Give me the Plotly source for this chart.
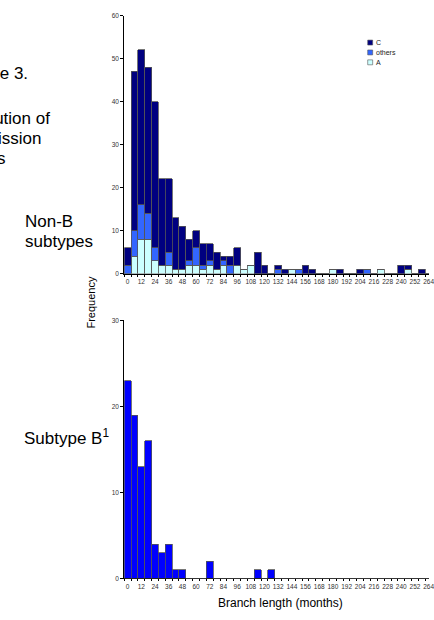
import plotly.graph_objects as go

# ---------------- data ----------------
bins = [0, 6, 12, 18, 24, 30, 36, 42, 48, 54, 60, 66, 72, 78, 84, 90, 96, 102, 108,
        114, 120, 126, 132, 138, 144, 150, 156, 162, 168, 174, 180, 186, 192, 198,
        204, 210, 216, 222, 228, 234, 240, 246, 252, 258, 264]

nonb_A = [0, 4, 8, 8, 3, 2, 2, 1, 1, 2, 2, 1, 2, 1, 2, 0, 2, 1, 2, 0, 0, 0, 0, 0,
          1, 0, 0, 0, 0, 0, 1, 0, 0, 0, 0, 0, 0, 1, 0, 0, 0, 1, 0, 0, 0]
nonb_others = [2, 6, 8, 6, 3, 0, 3, 0, 0, 1, 4, 1, 1, 0, 1, 2, 0, 0, 0, 0, 0, 0, 1, 0,
               0, 1, 0, 0, 0, 0, 0, 0, 0, 0, 0, 1, 0, 0, 0, 0, 0, 0, 0, 0, 0]
nonb_C = [4, 37, 36, 34, 34, 20, 17, 12, 10, 5, 4, 5, 4, 4, 1, 2, 4, 0, 0, 5, 2, 0, 1, 1,
          0, 0, 2, 1, 0, 0, 0, 1, 0, 0, 1, 0, 0, 0, 0, 0, 2, 1, 0, 1, 0]
subtype_B = [23, 19, 13, 16, 4, 3, 4, 1, 1, 0, 0, 0, 2, 0, 0, 0, 0, 0, 0, 1, 0, 1, 0, 0,
             0, 0, 0, 0, 0, 0, 0, 0, 0, 0, 0, 0, 0, 0, 0, 0, 0, 0, 0, 0, 0]

x_tickvals = [0, 12, 24, 36, 48, 60, 72, 84, 96, 108, 120, 132, 144, 156, 168, 180,
              192, 204, 216, 228, 240, 252, 264]
x_ticktext = ["0", "12", "24", "36", "48", "60", "72", "84", "96", "108", "120", "132",
              "144", "156", "168", "180", "192", "204", "216", "228", "240", "252", "264"]

series_names = ["A", "others", "C"]
series_colors = {"A": "#CCFFFF", "others": "#3366FF", "C": "#000080"}
B_COLOR = "#0000FF"

caption_lines = ["Figure 3.", "Distribution of", "transmission", "clusters"]

# ---------------- figure ----------------
W, H = 434, 620
FONT = "Liberation Sans, Arial, sans-serif"


def px(x):
    return x / W


def py(y):
    return 1 - y / H


fig = go.Figure()
outline = dict(color="#555555", width=0.8)
for name, vals in zip(series_names, [nonb_A, nonb_others, nonb_C]):
    fig.add_trace(go.Bar(x=bins, y=vals, name=name, width=6,
                         marker=dict(color=series_colors[name], line=outline),
                         xaxis="x", yaxis="y", showlegend=False, hoverinfo="skip"))

fig.add_trace(go.Bar(x=bins, y=subtype_B, name="B", width=6,
                     marker=dict(color=B_COLOR, line=outline),
                     xaxis="x2", yaxis="y2", showlegend=False, hoverinfo="skip"))

xdom = [px(125.7), 1.0]
xcommon = dict(range=[-3, 264.3], tickmode="array", tickvals=x_tickvals, ticktext=x_ticktext,
               showline=True, linecolor="black", linewidth=1, showgrid=False, zeroline=False,
               ticks="outside", ticklen=2, tickcolor="rgba(0,0,0,0)",
               ticklabeloverflow="allow",
               tickfont=dict(size=6.5, color="#333333", family=FONT),
               minor=dict(ticks="outside", tick0=-3, dtick=6, ticklen=2, tickcolor="black",
                          tickwidth=1, showgrid=False),
               layer="below traces", fixedrange=True)
ycommon = dict(showline=True, linecolor="black", linewidth=1, showgrid=False, zeroline=False,
               ticks="outside", ticklen=3, tickcolor="black",
               tickfont=dict(size=6.5, color="#333333", family=FONT), fixedrange=True)

fig.update_layout(
    width=W, height=H,
    margin=dict(l=0, r=0, t=0, b=0),
    paper_bgcolor="white", plot_bgcolor="white",
    barmode="stack", bargap=0,
    showlegend=False,
    hovermode=False,
    font=dict(family=FONT, color="black"),
    xaxis=dict(domain=xdom, anchor="y", **xcommon),
    yaxis=dict(domain=[py(272.7), py(11.7)], range=[0, 60], tickvals=[0, 10, 20, 30, 40, 50, 60],
               anchor="x", **ycommon),
    xaxis2=dict(domain=xdom, anchor="y2", **xcommon),
    yaxis2=dict(domain=[py(581), py(320)], range=[0, 30], tickvals=[0, 10, 20, 30],
                anchor="x2", **ycommon),
)

annotations = []
# caption (cropped on the left in the reference)
cap_pos = [(30, 70), (53, 116), (43, 136), (8, 156)]
for line, (xr, yc) in zip(caption_lines, cap_pos):
    annotations.append(dict(text=line, x=px(xr), y=py(yc), xref="paper", yref="paper",
                            xanchor="right", yanchor="middle", showarrow=False,
                            font=dict(size=17, family=FONT, color="black")))

annotations += [
    dict(text="Non-B", x=px(23), y=py(220), xref="paper", yref="paper", xanchor="left",
         yanchor="middle", showarrow=False, font=dict(size=17, family=FONT)),
    dict(text="subtypes", x=px(23), y=py(240), xref="paper", yref="paper", xanchor="left",
         yanchor="middle", showarrow=False, font=dict(size=17, family=FONT)),
    dict(text="Subtype B<sup>1</sup>", x=px(22), y=py(438), xref="paper", yref="paper",
         xanchor="left", yanchor="middle", showarrow=False, font=dict(size=17, family=FONT)),
    dict(text="Frequency", x=px(92), y=py(302), xref="paper", yref="paper", textangle=-90,
         xanchor="center", yanchor="middle", showarrow=False, font=dict(size=11, family=FONT)),
    dict(text="Branch length (months)", x=px(284), y=py(606), xref="paper", yref="paper",
         xanchor="center", yanchor="middle", showarrow=False, font=dict(size=12, family=FONT)),
]

# manual legend (C, others, A from top)
shapes = []
leg_x, leg_y0, leg_dy, sq = 372, 39, 10, 5
for k, name in enumerate(reversed(series_names)):
    yc = leg_y0 + k * leg_dy
    shapes.append(dict(type="rect", xref="paper", yref="paper",
                       x0=px(leg_x), x1=px(leg_x + sq), y0=py(yc + sq / 2), y1=py(yc - sq / 2),
                       fillcolor=series_colors[name], line=dict(color="#555555", width=0.6)))
    annotations.append(dict(text=name, x=px(leg_x + sq + 1), y=py(yc), xref="paper", yref="paper",
                            xanchor="left", yanchor="middle", showarrow=False,
                            font=dict(size=7, family=FONT, color="#222222")))

fig.update_layout(annotations=annotations, shapes=shapes)

# remove the browser's default page margin so the 434x620 figure fills the window
fig.write_html(
    "out.html",
    config={"displayModeBar": False, "staticPlot": True},
    post_script="document.body.style.margin='0';document.body.style.overflow='hidden';",
)
